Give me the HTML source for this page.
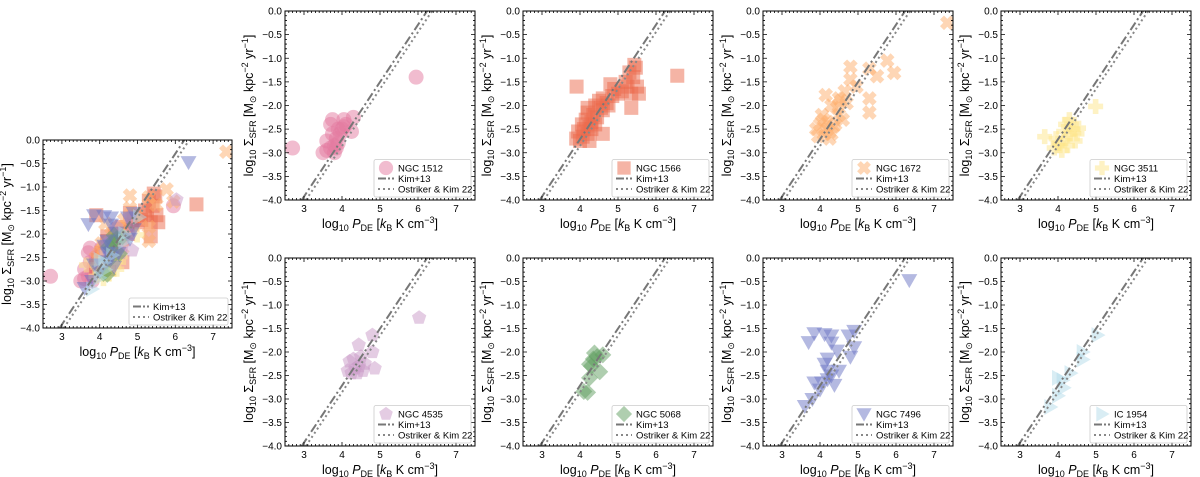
<!DOCTYPE html>
<html><head><meta charset="utf-8"><style>
body{margin:0;background:#fff;}
svg{display:block;font-family:"Liberation Sans","DejaVu Sans",sans-serif;}
</style></head><body>
<svg id="fig" width="1200" height="477" viewBox="0 0 1200 477" xmlns="http://www.w3.org/2000/svg"></svg>
<script>
const xTicks=[3,4,5,6,7];
const yTicks=[0,-0.5,-1,-1.5,-2,-2.5,-3,-3.5,-4];
const yTickLabels=["0.0","\u22120.5","\u22121.0","\u22121.5","\u22122.0","\u22122.5","\u22123.0","\u22123.5","\u22124.0"];
const galaxyNames=["NGC 1512","NGC 1566","NGC 1672","NGC 3511","NGC 4535","NGC 5068","NGC 7496","IC 1954"];
const galaxyColors=["#e47aa0","#ec6a4c","#fdae6b","#fde68a","#c99ac8","#5f9e5f","#6a74c4","#b3dcea"];
const galaxyMarkers=["circle","square","x","plus","pentagon","diamond","tridown","triright"];
const ngc1512X=[2.7,5.95,3.5,3.6,3.7,3.75,3.6,3.8,3.85,3.9,3.95,4.05,4.05,4.3,4.25,3.7,3.8,3.9,4.0,3.75,3.85,4.1];
const ngc1512Y=[-2.9,-1.4,-3.0,-2.95,-2.4,-2.3,-2.75,-2.85,-2.7,-2.5,-2.6,-2.3,-2.45,-2.25,-2.55,-2.9,-3.0,-2.8,-2.5,-2.6,-2.9,-2.4];
const ngc1566X=[6.56,3.91,5.43,5.47,5.4,5.5,5.35,5.35,5.0,4.8,4.6,4.55,4.07,3.9,4.25,4.2,4.6,4.0,4.1,4.2,4.3,4.35,3.95,4.15,4.25,4.4,4.5,4.45,4.7,4.85,5.1,5.25,5.3,5.55,4.3,4.4,4.05,4.2,4.6,5.2,4.9,4.75];
const ngc1566Y=[-1.37,-1.6,-1.14,-1.2,-1.4,-1.6,-1.75,-2.05,-1.75,-1.55,-1.85,-2.05,-2.66,-2.7,-2.45,-2.05,-2.6,-2.75,-2.5,-2.6,-2.35,-2.2,-2.55,-2.3,-2.75,-2.0,-1.9,-2.25,-1.95,-1.8,-1.7,-1.6,-1.3,-1.75,-2.5,-2.4,-2.4,-2.15,-2.1,-1.5,-1.65,-2.0];
const ngc1672X=[4.8,5.77,5.95,5.5,5.3,5.3,5.3,4.15,4.8,4.96,7.35,3.9,4.0,4.1,4.2,4.3,4.4,4.5,4.6,3.95,4.1,4.25,4.35,4.45,4.55,4.65,4.3,4.5,4.7,4.2,4.05];
const ngc1672Y=[-1.18,-1.05,-1.31,-1.38,-1.22,-1.85,-2.15,-1.78,-1.45,-1.6,-0.25,-2.5,-2.4,-2.3,-2.5,-2.6,-2.4,-2.2,-2.3,-2.65,-2.6,-2.7,-2.45,-2.05,-1.9,-1.7,-2.0,-1.85,-1.95,-2.35,-2.2];
const ngc3511X=[4.99,3.65,4.54,3.9,4.0,4.1,4.2,4.3,4.4,4.45,3.95,4.05,4.15,4.25,4.35,4.5,4.3,4.2];
const ngc3511Y=[-2.02,-2.66,-2.48,-2.9,-2.8,-2.95,-2.7,-2.6,-2.5,-2.75,-2.7,-2.85,-2.55,-2.85,-2.4,-2.6,-2.3,-2.4];
const ngc4535X=[6.03,4.8,4.44,4.8,4.86,4.15,4.25,4.35,4.45,4.55,4.6,4.3,4.2,4.5,4.4];
const ngc4535Y=[-1.27,-1.64,-1.85,-2.0,-2.35,-2.4,-2.45,-2.35,-2.3,-2.4,-2.25,-2.15,-2.2,-2.1,-2.45];
const ngc5068X=[4.38,4.6,4.25,4.52,4.25,4.1,4.2,4.35,4.45,4.3];
const ngc5068Y=[-2.02,-2.06,-2.26,-2.42,-2.55,-2.84,-2.86,-2.15,-2.1,-2.3];
const ngc7496X=[6.35,3.7,3.85,4.12,4.3,4.3,4.45,4.75,4.9,4.9,4.8,4.2,4.12,4.5,4.2,3.85,4.0,4.38,3.8,3.6,4.2,4.05,4.3];
const ngc7496Y=[-0.47,-1.79,-1.6,-1.62,-1.65,-1.8,-1.97,-1.65,-1.55,-1.9,-2.1,-2.14,-2.25,-2.4,-2.4,-2.65,-2.8,-2.7,-3.0,-3.15,-2.58,-2.65,-2.5];
const ic1954X=[5.04,4.65,4.65,4.33,4.0,4.15,4.0,3.8,4.12];
const ic1954Y=[-1.64,-2.0,-2.16,-2.45,-2.55,-2.76,-2.93,-3.17,-2.6];
const seriesX=[ngc1512X,ngc1566X,ngc1672X,ngc3511X,ngc4535X,ngc5068X,ngc7496X,ic1954X];
const seriesY=[ngc1512Y,ngc1566Y,ngc1672Y,ngc3511Y,ngc4535Y,ngc5068Y,ngc7496Y,ic1954Y];
const kimSlope=1.212, kimX0=6.24, okSlope=1.205, okX0=6.37;

const NS="http://www.w3.org/2000/svg";
const svg=document.getElementById('fig');
function mk(tag,attrs,parent){const e=document.createElementNS(NS,tag);for(const k in attrs)e.setAttribute(k,attrs[k]);(parent||svg).appendChild(e);return e;}
const XMIN=2.5,XMAX=7.5,YMIN=-4,YMAX=0;

function drawMarker(g,type,cx,cy,color,s){
  s=s||1;const r=7.5*s;let e;
  if(type==="circle"){e=mk('circle',{cx:cx,cy:cy,r:r},g);}
  else if(type==="square"){const h=7*s;e=mk('rect',{x:cx-h,y:cy-h,width:2*h,height:2*h},g);}
  else if(type==="diamond"){const h=8.5*s;e=mk('polygon',{points:`${cx},${cy-h} ${cx+h},${cy} ${cx},${cy+h} ${cx-h},${cy}`},g);}
  else if(type==="tridown"){const h=8*s;e=mk('polygon',{points:`${cx-h},${cy-h*0.75} ${cx+h},${cy-h*0.75} ${cx},${cy+h}`},g);}
  else if(type==="triright"){const h=8*s;e=mk('polygon',{points:`${cx-h*0.75},${cy-h} ${cx-h*0.75},${cy+h} ${cx+h},${cy}`},g);}
  else if(type==="pentagon"){let p=[];for(let i=0;i<5;i++){const a=-Math.PI/2+i*2*Math.PI/5;p.push((cx+r*Math.cos(a)).toFixed(1)+','+(cy+r*Math.sin(a)).toFixed(1));}e=mk('polygon',{points:p.join(' ')},g);}
  else if(type==="plus"){const a=2.8*s,b=7.5*s;e=mk('polygon',{points:`${cx-a},${cy-b} ${cx+a},${cy-b} ${cx+a},${cy-a} ${cx+b},${cy-a} ${cx+b},${cy+a} ${cx+a},${cy+a} ${cx+a},${cy+b} ${cx-a},${cy+b} ${cx-a},${cy+a} ${cx-b},${cy+a} ${cx-b},${cy-a} ${cx-a},${cy-a}`},g);}
  else if(type==="x"){const a=2.8*s,b=7.5*s;const pts=[[-a,-b],[a,-b],[a,-a],[b,-a],[b,a],[a,a],[a,b],[-a,b],[-a,a],[-b,a],[-b,-a],[-a,-a]];
    const c=Math.SQRT1_2;e=mk('polygon',{points:pts.map(p=>((cx+(p[0]-p[1])*c).toFixed(1)+','+(cy+(p[0]+p[1])*c).toFixed(1))).join(' ')},g);}
  e.setAttribute('fill',color);e.setAttribute('fill-opacity','0.5');e.setAttribute('stroke','none');
  return e;
}

function panel(px,py,pw,ph,list,legendLabel,name){
  const g=mk('g',{});
  
  
  const X=v=>px+(v-XMIN)/(XMAX-XMIN)*pw;
  const Y=v=>py+(YMAX-v)/(YMAX-YMIN)*ph;
  const cid='c'+name;
  const cp=mk('clipPath',{id:cid},g);mk('rect',{x:px,y:py,width:pw,height:ph},cp);
  const data=mk('g',{'clip-path':`url(#${cid})`},g);
  
  
  list.forEach(i=>{
    const xs=seriesX[i],ys=seriesY[i];
    for(let k=0;k<xs.length;k++){
      const m=drawMarker(data,galaxyMarkers[i],X(xs[k]),Y(ys[k]),galaxyColors[i]);
      
      
    }
  });
  const kx1=kimX0+YMIN/kimSlope, kx2=kimX0;
  const kl=mk('line',{x1:X(kx1),y1:Y(YMIN),x2:X(kx2),y2:Y(0),stroke:'#777',"stroke-width":2,"stroke-dasharray":"9,3,2,3"},data);
  
  
  const ox1=okX0+YMIN/okSlope, ox2=okX0;
  const ol=mk('line',{x1:X(ox1),y1:Y(YMIN),x2:X(ox2),y2:Y(0),stroke:'#888',"stroke-width":2,"stroke-dasharray":"2,3"},data);
  
  
  mk('rect',{x:px,y:py,width:pw,height:ph,fill:'none',stroke:'#000','stroke-width':1},g);
  let d='';
  for(let v=2.6;v<7.5;v+=0.1){const x=X(v);const maj=Math.abs(v-Math.round(v))<0.01;const L=maj?4:2;d+=`M${x},${py+ph}v${-L}M${x},${py}v${L}`;}
  for(let v=-3.9;v<0;v+=0.1){const y=Y(v);const maj=Math.abs(v*2-Math.round(v*2))<0.01;const L=maj?4:2;d+=`M${px},${y}h${L}M${px+pw},${y}h${-L}`;}
  mk('path',{d:d,stroke:'#000','stroke-width':0.8,fill:'none'},g);
  xTicks.forEach(v=>{const t=mk('text',{x:X(v),y:py+ph+12,'font-size':10,'text-anchor':'middle',fill:'#000'},g);t.textContent=v;
    });
  yTicks.forEach((v,i)=>{const t=mk('text',{x:px-3,y:Y(v)+3.5,'font-size':10,'text-anchor':'end',fill:'#000'},g);t.textContent=yTickLabels[i];
    });
  const xl=mk('text',{x:px+pw/2,y:py+ph+28,'font-size':12.5,'text-anchor':'middle'},g);
  xl.innerHTML='log<tspan font-size="9" dy="3">10</tspan><tspan dy="-3"> </tspan><tspan font-style="italic">P</tspan><tspan font-size="9" dy="3">DE</tspan><tspan dy="-3"> [</tspan><tspan font-style="italic">k</tspan><tspan font-size="9" dy="3">B</tspan><tspan dy="-3"> K cm</tspan><tspan font-size="9" dy="-5">\u22123</tspan><tspan dy="5">]</tspan>';
  
  const yx=px-32,yy=py+ph/2;
  const yl=mk('text',{x:yx,y:yy,'font-size':12.5,'text-anchor':'middle',transform:`rotate(-90 ${yx} ${yy})`},g);
  yl.innerHTML='log<tspan font-size="9" dy="3">10</tspan><tspan dy="-3"> \u03A3</tspan><tspan font-size="9" dy="3">SFR</tspan><tspan dy="-3"> [M</tspan><tspan font-size="9" dy="3">\u2299</tspan><tspan dy="-3"> kpc</tspan><tspan font-size="9" dy="-5">\u22122</tspan><tspan dy="5"> yr</tspan><tspan font-size="9" dy="-5">\u22121</tspan><tspan dy="5">]</tspan>';
  
  const rows=[];if(legendLabel!==null)rows.push('m');rows.push('k');rows.push('o');
  const lw=legendLabel===null?99:97,lh=rows.length*10.5+6;
  const lx=px+pw-lw-4,ly=py+ph-lh-3;
  const lg=mk('g',{},g);
  
  mk('rect',{x:lx,y:ly,width:lw,height:lh,rx:2,fill:'#fff','fill-opacity':0.8,stroke:'#ccc','stroke-width':0.8},lg);
  rows.forEach((r,j)=>{
    const cy=ly+8.5+j*10.5;
    let label;
    if(r==='m'){drawMarker(lg,galaxyMarkers[list[0]],lx+12,cy,galaxyColors[list[0]],0.95);label=legendLabel;}
    else if(r==='k'){mk('line',{x1:lx+4,y1:cy,x2:lx+20,y2:cy,stroke:'#777','stroke-width':2,'stroke-dasharray':'8,2,2,2'},lg);label='Kim+13';}
    else {mk('line',{x1:lx+4,y1:cy,x2:lx+20,y2:cy,stroke:'#888','stroke-width':2,'stroke-dasharray':'2,3'},lg);label='Ostriker & Kim 22';}
    const t=mk('text',{x:lx+24,y:cy+3.5,'font-size':9.5},lg);t.textContent=label;
    
  });
}
panel(43,140,189,188,[0,1,2,3,4,5,6,7],null,'combined-panel');
const pxs=[285,523,763,1001];
for(let i=0;i<4;i++){panel(pxs[i],11,190,189,[i],galaxyNames[i],'panel-'+galaxyNames[i].toLowerCase().replace(' ','-'));}
for(let i=0;i<4;i++){panel(pxs[i],258,190,188,[i+4],galaxyNames[i+4],'panel-'+galaxyNames[i+4].toLowerCase().replace(' ','-'));}
</script>
</body></html>
